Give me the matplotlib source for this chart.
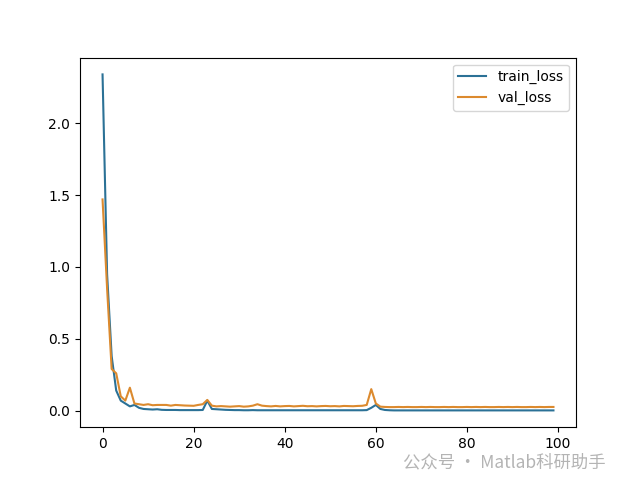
import matplotlib.pyplot as plt

plt.rcParams['font.family'] = ['DejaVu Sans']

epochs = list(range(100))

train_loss = [
    2.34, 0.95, 0.38, 0.14, 0.07, 0.05, 0.03, 0.04, 0.02, 0.012,
    0.010, 0.008, 0.010, 0.006, 0.005, 0.005, 0.005, 0.004, 0.004, 0.004,
    0.004, 0.004, 0.005, 0.070, 0.012, 0.010, 0.008, 0.006, 0.005, 0.004,
    0.004, 0.003, 0.003, 0.004, 0.003, 0.003, 0.003, 0.003, 0.003, 0.003,
    0.003, 0.003, 0.003, 0.003, 0.003, 0.003, 0.003, 0.003, 0.003, 0.003,
    0.003, 0.003, 0.003, 0.003, 0.003, 0.003, 0.003, 0.003, 0.004, 0.020,
    0.040, 0.012, 0.005, 0.003, 0.002, 0.002, 0.002, 0.002, 0.002, 0.002,
    0.002, 0.002, 0.002, 0.002, 0.002, 0.002, 0.002, 0.002, 0.002, 0.002,
    0.002, 0.002, 0.002, 0.002, 0.002, 0.002, 0.002, 0.002, 0.002, 0.002,
    0.002, 0.002, 0.002, 0.002, 0.002, 0.002, 0.002, 0.002, 0.002, 0.002,
]

val_loss = [
    1.47, 0.85, 0.29, 0.26, 0.10, 0.07, 0.16, 0.05, 0.045, 0.040,
    0.045, 0.038, 0.040, 0.040, 0.040, 0.035, 0.040, 0.038, 0.036, 0.035,
    0.034, 0.040, 0.045, 0.075, 0.035, 0.030, 0.032, 0.030, 0.028, 0.030,
    0.032, 0.028, 0.030, 0.035, 0.045, 0.035, 0.032, 0.030, 0.033, 0.030,
    0.032, 0.033, 0.030, 0.032, 0.034, 0.031, 0.032, 0.030, 0.032, 0.033,
    0.031, 0.032, 0.030, 0.033, 0.032, 0.031, 0.033, 0.034, 0.040, 0.150,
    0.050, 0.028, 0.026, 0.025, 0.025, 0.026, 0.025, 0.026, 0.025, 0.025,
    0.026, 0.025, 0.026, 0.025, 0.025, 0.026, 0.025, 0.026, 0.025, 0.025,
    0.026, 0.025, 0.026, 0.025, 0.026, 0.025, 0.025, 0.026, 0.025, 0.026,
    0.025, 0.026, 0.025, 0.025, 0.026, 0.025, 0.026, 0.025, 0.026, 0.026,
]

fig, ax = plt.subplots(figsize=(6.4, 4.8), dpi=100)
ax.plot(epochs, train_loss, color='#2b7196', label='train_loss')
ax.plot(epochs, val_loss, color='#dc8a2e', label='val_loss')
ax.legend(loc='upper right')

# watermark
fig.text(0.63, 0.036, '公众号 · Matlab科研助手', color='#b4b4b4', fontsize=12.5,
         family=['Noto Sans CJK SC', 'DejaVu Sans'], va='center')

fig.savefig('out.png')
